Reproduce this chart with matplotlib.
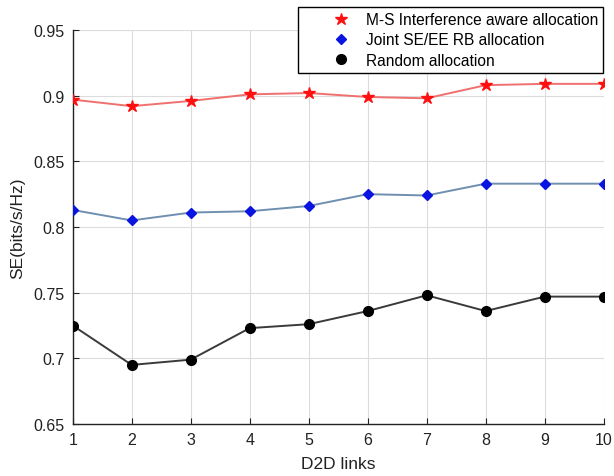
import matplotlib
matplotlib.use('Agg')
from matplotlib import pyplot as plt
from matplotlib.legend_handler import HandlerLine2D
import numpy as np

plt.rcParams['font.family'] = ['Liberation Sans', 'DejaVu Sans']

links = [1, 2, 3, 4, 5, 6, 7, 8, 9, 10]
ms_interference = [0.897, 0.892, 0.896, 0.901, 0.902, 0.899, 0.898, 0.908, 0.909, 0.909]
joint_se_ee = [0.813, 0.805, 0.811, 0.812, 0.816, 0.825, 0.824, 0.833, 0.833, 0.833]
random_alloc = [0.725, 0.695, 0.699, 0.723, 0.726, 0.736, 0.748, 0.736, 0.747, 0.747]
yticks = [0.65, 0.7, 0.75, 0.8, 0.85, 0.9, 0.95]
ytick_labels = ['0.65', '0.7', '0.75', '0.8', '0.85', '0.9', '0.95']

fig = plt.figure(figsize=(6.14, 4.77), dpi=100)
ax = fig.add_axes([0.1184, 0.109, 0.8648, 0.826])

# lines drawn lighter than the markers, like the original
ax.plot(links, ms_interference, color='#f07070', lw=1.4, zorder=2)
ax.plot(links, joint_se_ee, color='#6f8fb0', lw=1.4, zorder=2)
ax.plot(links, random_alloc, color='#3a3a3a', lw=1.4, zorder=2)
ax.plot(links, ms_interference, ls='none', marker='*', ms=9, color='#ff1010', zorder=3,
        label='M-S Interference aware allocation')
ax.plot(links, joint_se_ee, ls='none', marker='D', ms=5.5, color='#0a14e0', zorder=3,
        label='Joint SE/EE RB allocation')
ax.plot(links, random_alloc, ls='none', marker='o', ms=7, color='black', zorder=3,
        label='Random allocation')

ax.set_xlim(1, 10)
ax.set_ylim(0.65, 0.95)
ax.set_xticks(links)
ax.set_yticks(yticks)
ax.set_yticklabels(ytick_labels)
ax.grid(True, color='#dcdcdc', lw=0.8)
ax.set_axisbelow(True)
for s in ['top', 'right']:
    ax.spines[s].set_visible(False)
for s in ['left', 'bottom']:
    ax.spines[s].set_linewidth(1.0)
    ax.spines[s].set_color('#222222')
ax.tick_params(direction='in', length=4, labelsize=11.5, colors='#222222', pad=6)

ax.set_xlabel('D2D links', fontsize=12.5, color='#222222', labelpad=6)
ax.set_ylabel('SE(bits/s/Hz)', fontsize=12.5, color='#222222', labelpad=6)

# shift legend markers right inside the handle area (matlab style)
hmap = {h: HandlerLine2D(xpad=1.1) for h in ax.get_lines()[3:]}
leg = ax.legend(loc='upper right', bbox_to_anchor=(603 / 614, 1 - 8 / 477),
                bbox_transform=fig.transFigure, fontsize=11.2, frameon=True,
                fancybox=False, edgecolor='black', framealpha=1,
                borderpad=0.32, labelspacing=0.34, handlelength=3.7,
                handletextpad=0.3, borderaxespad=0, handler_map=hmap)
leg.get_frame().set_linewidth(1.0)

plt.savefig('out.png', dpi=100)
